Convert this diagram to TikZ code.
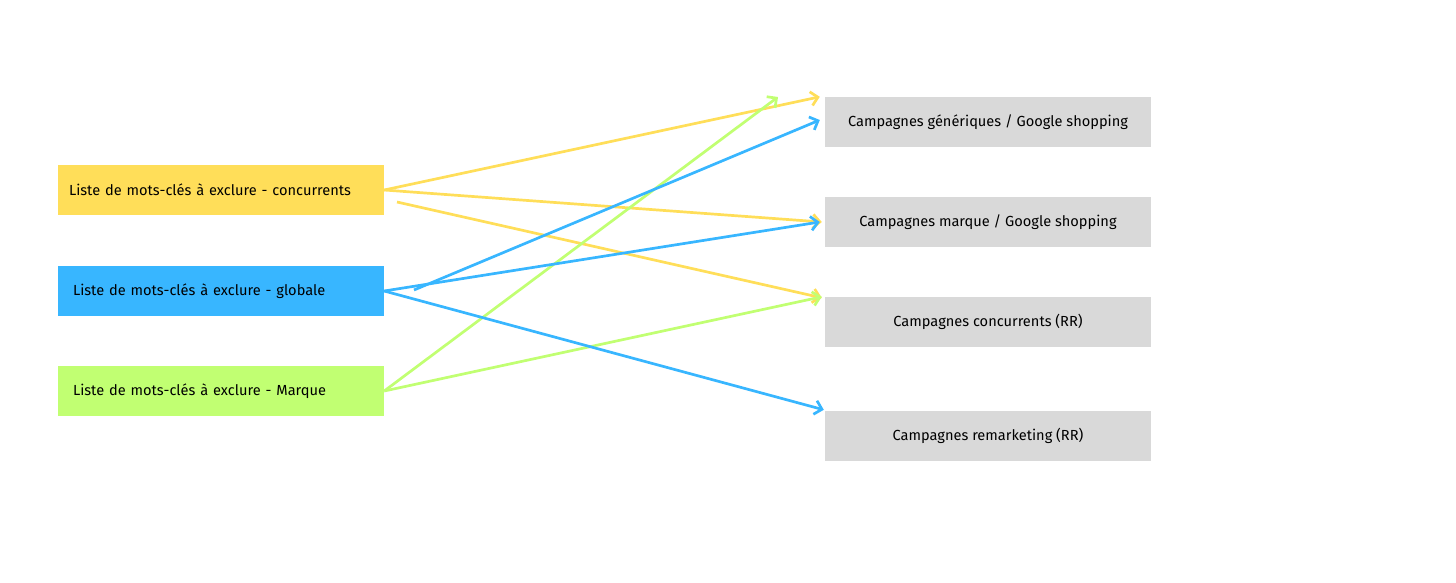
\documentclass[tikz,border=0pt]{standalone}
\usepackage{fontspec}
\setmainfont{Fira Sans}
\usetikzlibrary{arrows.meta,positioning}
\definecolor{jaune}{HTML}{FFDE59}
\definecolor{bleu}{HTML}{38B6FF}
\definecolor{vert}{HTML}{C1FF72}
\definecolor{gris}{HTML}{D9D9D9}
\tikzset{
  liste/.style={minimum height=50pt, text width=296pt, inner xsep=15pt, align=left,
    font=\fontsize{14.6}{17}\selectfont},
  campagne/.style={fill=gris, minimum width=326pt, minimum height=50pt, align=center,
    font=\fontsize{14.6}{17}\selectfont},
  fleche/.style={line width=2.7pt, -{Straight Barb[length=7pt,width=14pt]}},
}

\begin{document}
\begin{tikzpicture}[x=1pt,y=-1pt]
    \useasboundingbox (0,0) rectangle (1456,582);
    % listes de mots-cles
    \node[liste, fill=jaune, text width=304pt, inner xsep=11pt] (conc) at (221,190) {Liste de mots-clés à exclure - concurrents};
    \node[liste, fill=bleu] (glob) at (221,291) {Liste de mots-clés à exclure - globale};
    \node[liste, fill=vert] (marq) at (221,391) {Liste de mots-clés à exclure - Marque};
    % campagnes
    \node[campagne] (gen) at (988,122) {Campagnes génériques / Google shopping};
    \node[campagne] (mrq) at (988,222) {Campagnes marque / Google shopping};
    \node[campagne] (cc) at (988,322) {Campagnes concurrents (RR)};
    \node[campagne] (rmk) at (988,436) {Campagnes remarketing (RR)};
    % points libres
    \coordinate (conc2) at (397,202);
    \coordinate (glob2) at (414,290);
    \coordinate (haut) at (778,97);
    % fleches
    \draw[fleche, jaune] (conc.east) -- ([xshift=-5pt]gen.north west);
    \draw[fleche, jaune] (conc.east) -- ([xshift=-3pt]mrq.west);
    \draw[fleche, jaune] (conc2) -- ([xshift=-3pt,yshift=-1pt]cc.north west);
    \draw[fleche, vert] (marq.east) -- (haut);
    \draw[fleche, vert] (marq.east) -- ([xshift=-3pt]cc.north west);
    \draw[fleche, bleu] (glob.east) -- ([xshift=-5pt]mrq.west);
    \draw[fleche, bleu] (glob2) -- ([xshift=-5pt,yshift=2pt]gen.west);
    \draw[fleche, bleu] (glob.east) -- ([xshift=-1pt,yshift=1pt]rmk.north west);
\end{tikzpicture}
\end{document}
